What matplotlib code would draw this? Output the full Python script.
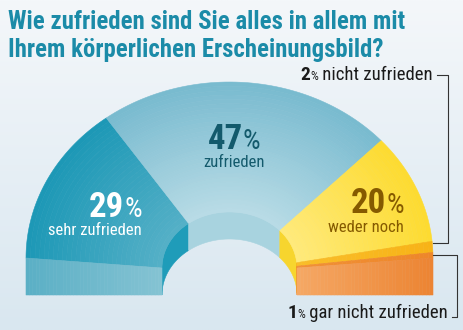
import numpy as np
import matplotlib
matplotlib.use('Agg')
import matplotlib.pyplot as plt
from matplotlib.colors import to_rgb
from matplotlib.patches import Polygon

# data
labels = ['sehr zufrieden', 'zufrieden', 'weder noch', 'nicht zufrieden', 'gar nicht zufrieden']
values = [29, 47, 20, 2, 1]
title = 'Wie zufrieden sind Sie alles in allem mit\nIhrem körperlichen Erscheinungsbild?'

# colours per slice (outer edge / inner edge of top face, inner wall)
top_outer = ['#1c98b6', '#78bacf', '#fddb30', '#f8b316', '#ee8629']
top_inner = ['#55b0c7', '#b9dce6', '#ffea7c', '#f9bd2a', '#f19036']
wall_cols = ['#1f9cb9', '#a8d3df', '#f7d52e', '#f8b316', '#ee8629']

FONT = ['Roboto Condensed', 'Archivo Narrow', 'Barlow Condensed', 'Liberation Sans']

fig = plt.figure(figsize=(4.64, 3.30), dpi=100)
ax = fig.add_axes([0, 0, 1, 1])
ax.set_xlim(0, 464)
ax.set_ylim(330, 0)
ax.axis('off')

# background gradient
bg = np.linspace(0, 1, 200)[:, None, None]
c1, c2 = np.array(to_rgb('#f4f7fa')), np.array(to_rgb('#d9e7f0'))
ax.imshow(c1 + (c2 - c1) * bg * np.ones((1, 2, 1)), extent=(0, 464, 330, 0),
          aspect='auto', zorder=0)

# geometry of the tilted half ring (pixel units)
cx = 229.5
rx_in, rx_out = 67.5, 203.5
ry_in, ry_out = 56, 176
cy_in, cy_out = 268, 258
bottom = 295


def ring_pt(theta, rho):
    t = np.radians(theta)
    rx = rx_in + rho * (rx_out - rx_in)
    ry = ry_in + rho * (ry_out - ry_in)
    cy = cy_in + rho * (cy_out - cy_in)
    return cx + rx * np.cos(t), cy - ry * np.sin(t)


def mix(a, b, f):
    a, b = np.array(to_rgb(a)), np.array(to_rgb(b))
    return tuple(a + (b - a) * f)


spans = np.array(values) / sum(values) * 180
ends = 180 - np.cumsum(spans)
starts = ends + spans
nb = 30

# top face, drawn in radial bands for shading
for i in range(len(values)):
    th = np.linspace(starts[i], ends[i], 60)
    for k in range(nb):
        a, b = k / nb, (k + 1) / nb
        xo, yo = ring_pt(th, b)
        xi, yi = ring_pt(th[::-1], a)
        col = mix(top_inner[i], top_outer[i], (a + b) / 2)
        ax.add_patch(Polygon(np.column_stack([np.r_[xo, xi], np.r_[yo, yi]]),
                             closed=True, fc=col, ec=col, lw=0.4, zorder=2))

# inner wall seen through the hole
for i in range(len(values)):
    th = np.linspace(starts[i], ends[i], 60)
    xt, yt = ring_pt(th, 0)
    xb, yb = xt[::-1], (yt + (bottom - cy_in))[::-1]
    ax.add_patch(Polygon(np.column_stack([np.r_[xt, xb], np.r_[yt, yb]]),
                         closed=True, fc=wall_cols[i], ec=wall_cols[i], lw=0.4, zorder=1))

# front faces of first and last slice
nf = 40
for side, (c_a, c_b) in [(-1, ('#5aafc5', '#85c3d3')), (1, ('#f5a865', '#ec8432'))]:
    for k in range(nf):
        a, b = k / nf, (k + 1) / nf
        x0 = cx + side * (rx_out - a * (rx_out - rx_in))
        x1 = cx + side * (rx_out - b * (rx_out - rx_in))
        y0 = cy_out + a * (cy_in - cy_out)
        y1 = cy_out + b * (cy_in - cy_out)
        f = (a + b) / 2 if side < 0 else 1 - (a + b) / 2
        col = mix(c_a, c_b, f)
        ax.add_patch(Polygon([(x0, y0), (x1, y1), (x1, bottom), (x0, bottom)],
                             closed=True, fc=col, ec=col, lw=0.4, zorder=2))

renderer = fig.canvas.get_renderer()


def rich(x, y, parts, ha='left'):
    arts, widths = [], []
    for s, kw in parts:
        t = ax.text(0, y, s, va='baseline', ha='left', family=FONT, zorder=5, **kw)
        arts.append(t)
        widths.append(t.get_window_extent(renderer=renderer).width)
    total = sum(widths)
    x0 = x - total if ha == 'right' else x - total / 2 if ha == 'center' else x
    for t, w in zip(arts, widths):
        t.set_x(x0)
        x0 += w


# title
for n, line in enumerate(title.split('\n')):
    ax.text(8, 29 + 28 * n, line, va='baseline', ha='left', family=FONT,
            fontweight='bold', fontsize=17.8, color='#1b8ba8')

# slice labels
big = dict(fontsize=25, fontweight='bold')
pct = dict(fontsize=20)
small = dict(fontsize=12)
rich(234, 149, [(str(values[1]), dict(big, color='#135a6c')), ('%', dict(pct, color='#135a6c'))], 'center')
rich(234, 167, [(labels[1], dict(small, color='#135a6c'))], 'center')
rich(142, 217, [(str(values[0]), dict(big, color='white')), ('%', dict(pct, color='white'))], 'right')
rich(142, 235, [(labels[0], dict(small, color='white'))], 'right')
rich(404, 213, [(str(values[2]), dict(big, color='#855a00')), ('%', dict(pct, color='#855a00'))], 'right')
rich(404, 232, [(labels[2], dict(small, color='#855a00'))], 'right')

side_num = dict(fontsize=14, fontweight='bold', color='#1a1a1a')
side_pct = dict(fontsize=9, color='#1a1a1a')
side_txt = dict(fontsize=13.5, color='#1a1a1a')
rich(433, 80, [(str(values[3]), side_num), ('%', side_pct), (' ' + labels[3], side_txt)], 'right')
rich(448, 318, [(str(values[4]), side_num), ('%', side_pct), (' ' + labels[4], side_txt)], 'right')

# leader lines
ax.plot([437, 448, 448, 433], [75, 75, 243, 243], color='#333333', lw=0.8, zorder=4)
ax.plot([433, 457, 457, 452], [255, 255, 317, 317], color='#333333', lw=0.8, zorder=4)

fig.savefig('out.png', dpi=100)
